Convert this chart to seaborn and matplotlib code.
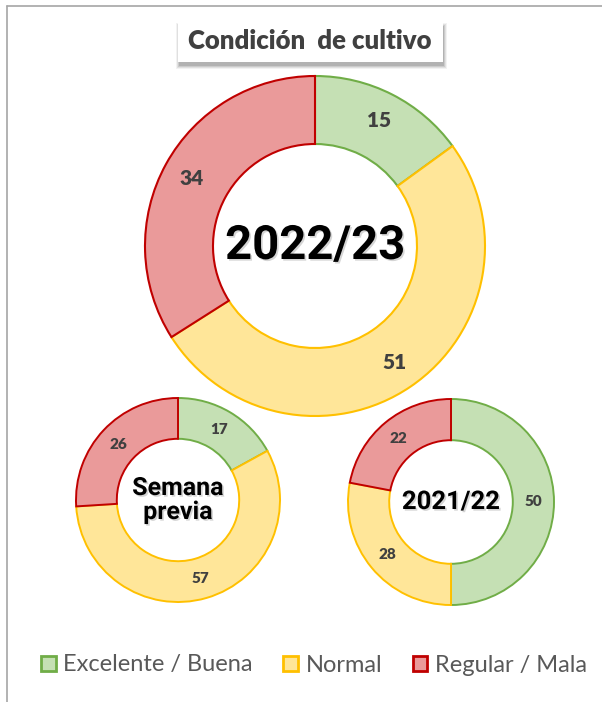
import matplotlib
matplotlib.use("Agg")
import matplotlib.pyplot as plt
import matplotlib.patheffects as pe
from matplotlib.patches import Rectangle, Patch
from matplotlib.lines import Line2D
import numpy as np
import seaborn as sns

sns.set_theme(style="white")
plt.rcParams['font.family'] = ['Lato', 'DejaVu Sans']

categories = ["Excelente / Buena", "Normal", "Regular / Mala"]
actual = [15, 51, 34]
semana_previa = [17, 57, 26]
anterior = [50, 28, 22]
center_labels = ["2022/23", "Semana\nprevia", "2021/22"]
title = "Condición  de cultivo"

fills = ["#C5E0B4", "#FFE699", "#EA9A9A"]
edges = ["#70AD47", "#FFC000", "#C00000"]

W, H, DPI = 602, 702, 100
fig = plt.figure(figsize=(W / DPI, H / DPI), dpi=DPI)
fig.patch.set_facecolor("white")

CENTER_FONT = ["Liberation Sans Narrow", "Roboto", "DejaVu Sans"]


def donut(cx, cy, R, values, lab_size, lab_r, ctext, csize, lw):
    pad = 1.05
    ax = fig.add_axes([(cx - R * pad) / W, 1 - (cy + R * pad) / H,
                       2 * R * pad / W, 2 * R * pad / H])
    wedges, _ = ax.pie(values, colors=fills, startangle=90, counterclock=False,
                       radius=1, wedgeprops=dict(width=0.4, linewidth=lw))
    for w, ec in zip(wedges, edges):
        w.set_edgecolor(ec)
    for w, v in zip(wedges, values):
        ang = np.deg2rad((w.theta1 + w.theta2) / 2)
        ax.text(lab_r * np.cos(ang), lab_r * np.sin(ang), str(v), ha="center", va="center",
                fontsize=lab_size, fontweight="heavy", color="#404040")
    ax.text(0, 0, ctext, ha="center", va="center", fontsize=csize, fontweight="bold",
            color="black", family=CENTER_FONT, linespacing=1.0,
            path_effects=[pe.SimplePatchShadow(offset=(1.2, -1.2), shadow_rgbFace="#888888", alpha=0.35),
                          pe.Normal()])
    ax.set_xlim(-pad, pad)
    ax.set_ylim(-pad, pad)
    ax.set_aspect("equal")
    ax.axis("off")
    return ax


donut(315, 246, 170, actual, 15, 0.83, center_labels[0], 34, 1.5)
donut(178, 500, 102, semana_previa, 11, 0.8, center_labels[1], 18, 1.4)
donut(451, 502, 103, anterior, 11, 0.8, center_labels[2], 18.5, 1.4)

# frame lines
fig.add_artist(Line2D([7 / W, 7 / W], [0, 1 - 6 / H], color="#A6A6A6", lw=1.2))
fig.add_artist(Line2D([7 / W, 1], [1 - 6 / H, 1 - 6 / H], color="#A6A6A6", lw=1.2))

# title box with soft shadow
bx, by, bw, bh = 178, 20, 265, 42
for k, a in [(4, 0.05), (3, 0.07), (2, 0.09), (1, 0.12)]:
    fig.add_artist(Rectangle(((bx + 2 - k) / W, 1 - (by + bh + 3 + k) / H),
                             (bw + 2 * k - 2) / W, (bh + 2 * k - 4) / H,
                             transform=fig.transFigure, facecolor="black", edgecolor="none", alpha=a))
fig.add_artist(Rectangle((bx / W, 1 - (by + bh) / H), bw / W, bh / H, transform=fig.transFigure,
                         facecolor="white", edgecolor="none"))
fig.text(310 / W, 1 - 41 / H, title, ha="center", va="center", fontsize=18.5,
         fontweight="heavy", color="#404040")

handles = [Patch(facecolor=f, edgecolor=e, lw=2) for f, e in zip(fills, edges)]
fig.legend(handles, categories, loc="center", bbox_to_anchor=(314 / W, 1 - 665 / H),
           ncol=3, frameon=False, fontsize=17, handlelength=0.62, handleheight=0.62,
           handletextpad=0.32, columnspacing=1.3, labelcolor="#595959")

fig.savefig("out.png", dpi=DPI, facecolor="white")
